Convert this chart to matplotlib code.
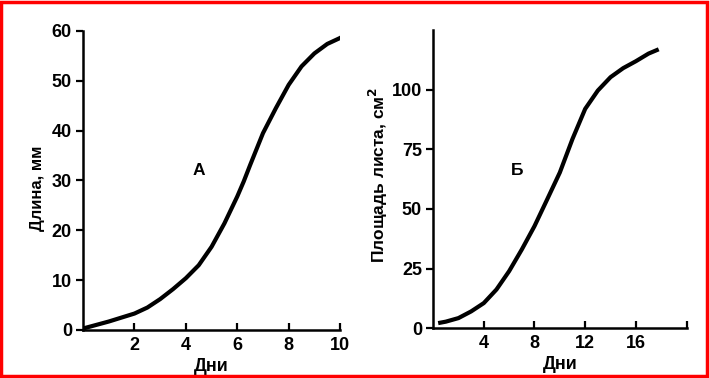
import matplotlib.pyplot as plt
from matplotlib.patches import Rectangle

plt.rcParams['font.family'] = ['Liberation Sans', 'DejaVu Sans']
plt.rcParams['font.weight'] = 'bold'
plt.rcParams['axes.labelweight'] = 'bold'

# panel A: stem length
days_a = [0, 1, 2, 2.5, 3, 3.5, 4, 4.5, 5, 5.5, 6, 6.25, 6.5, 7, 7.5, 8, 8.5, 9, 9.5, 10, 10.2]
length_a = [0.3, 1.7, 3.3, 4.5, 6.2, 8.2, 10.4, 13.0, 16.7, 21.4, 26.8, 29.8, 33.1, 39.5,
            44.5, 49.2, 52.9, 55.5, 57.4, 58.6, 59.2]
xticks_a = [2, 4, 6, 8, 10]
yticks_a = [0, 10, 20, 30, 40, 50, 60]

# panel B: leaf area
days_b = [0.4, 1, 2, 3, 4, 5, 6, 7, 8, 9, 10, 11, 12, 13, 14, 15, 16, 17, 17.8]
area_b = [2.1, 2.7, 4.2, 7.0, 10.5, 16.2, 23.9, 33, 42.8, 54, 65.3, 79.4, 92, 99.7,
          105.3, 109.1, 112, 115.2, 117]
xticks_b = [4, 8, 12, 16, 20]
xlabels_b = ['4', '8', '12', '16', '']
yticks_b = [0, 25, 50, 75, 100]


def style_axes(ax):
    for s in ['top', 'right']:
        ax.spines[s].set_visible(False)
    for s in ['left', 'bottom']:
        ax.spines[s].set_linewidth(1.8)
    ax.tick_params(axis='x', direction='in', length=5, width=1.6, labelsize=13, pad=5)
    ax.tick_params(axis='y', direction='out', length=5, width=1.6, labelsize=13, pad=3)


fig = plt.figure(figsize=(7.1, 3.78), dpi=100)

ax1 = fig.add_axes([0.117, 0.127, 0.362, 0.791])
ax1.plot(days_a, length_a, color='black', lw=3, solid_capstyle='butt')
ax1.set_xlim(0, 10)
ax1.set_ylim(0, 60)
ax1.set_xticks(xticks_a)
ax1.set_yticks(yticks_a)
ax1.set_xlabel('Дни', fontsize=13, labelpad=3)
ax1.set_ylabel('Длина, мм', fontsize=12)
ax1.yaxis.set_label_coords(-0.148, 0.475)
ax1.text(4.5, 32, 'А', fontsize=12.5, ha='center', va='center')
style_axes(ax1)

ax2 = fig.add_axes([0.610, 0.132, 0.357, 0.788])
ax2.plot(days_b, area_b, color='black', lw=3, solid_capstyle='butt')
ax2.set_xlim(0, 20)
ax2.set_ylim(0, 125)
ax2.set_xticks(xticks_b)
ax2.set_xticklabels(xlabels_b)
ax2.set_yticks(yticks_b)
ax2.set_xlabel('Дни', fontsize=13, labelpad=3)
ax2.set_ylabel('Площадь листа, см$^2$', fontsize=12.5)
ax2.yaxis.set_label_coords(-0.17, 0.513)
ax2.text(6.6, 66, 'Б', fontsize=12.5, ha='center', va='center')
style_axes(ax2)

fig.add_artist(Rectangle((0.002, 0.004), 0.994, 0.992, transform=fig.transFigure,
                         fill=False, edgecolor='red', lw=2.5))

fig.savefig('out.png', dpi=100)
